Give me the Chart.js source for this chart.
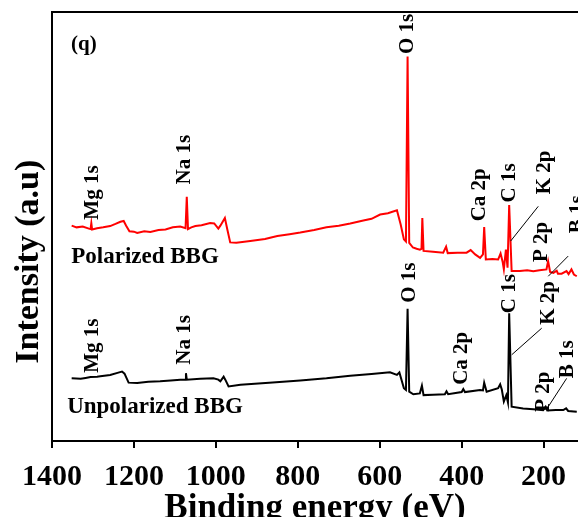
<!DOCTYPE html>
<html>
<head>
<meta charset="utf-8">
<script src="https://cdn.jsdelivr.net/npm/chart.js@4.4.0/dist/chart.umd.min.js"></script>
<style>
  html, body { margin: 0; padding: 0; background: #fff; overflow: hidden; }
  #wrap { width: 578px; height: 517px; position: relative; }
</style>
</head>
<body>
<div id="wrap"><canvas id="xps"></canvas></div>
<script>
// survey spectra (binding energy in eV, intensity in a.u.)
const polEnergy = [
  1352, 1340, 1325, 1310, 1306, 1304, 1302, 1290, 1275, 1258,
  1245, 1233, 1225, 1219, 1211, 1200, 1192, 1175, 1160, 1140,
  1123, 1105, 1087, 1074, 1071, 1068, 1060, 1050, 1035, 1014,
  1004, 994, 989, 978, 972, 965, 950, 916, 880, 850,
  820, 794, 760, 730, 700, 672, 640, 620, 599, 580,
  558, 549, 541, 536, 532, 528, 519, 510, 502, 498,
  496, 493, 470, 445, 438, 434, 410, 388, 378, 367,
  355, 348, 345, 341, 325, 311, 305, 300, 297, 292,
  288, 284, 278, 258, 240, 225, 210, 193, 189, 184,
  176, 168, 165, 156, 144, 139, 132, 126, 119
];
const polIntensity = [
  50.2, 49.8, 50.0, 49.5, 49.4, 50.8, 49.3, 49.6, 49.8, 50.1,
  50.6, 51.1, 51.3, 50.2, 48.9, 48.8, 48.5, 48.9, 48.7, 49.2,
  49.3, 49.8, 50.0, 49.6, 56.9, 49.4, 49.8, 50.1, 50.3, 50.8,
  50.7, 49.5, 50.2, 52.0, 49.3, 46.3, 46.2, 46.6, 47.1, 47.8,
  48.2, 48.6, 49.2, 49.8, 50.2, 50.7, 51.4, 51.8, 52.8, 53.1,
  53.8, 50.5, 47.0, 46.5, 89.6, 46.2, 45.1, 44.8, 44.6, 44.8,
  52.0, 44.3, 44.1, 43.9, 45.3, 43.8, 43.9, 43.9, 44.5, 43.5,
  42.7, 43.5, 49.9, 42.3, 42.4, 42.3, 43.7, 41.8, 40.0, 44.6,
  40.4, 55.0, 39.6, 39.6, 39.8, 39.6, 39.8, 40.0, 41.9, 39.4,
  39.2, 39.7, 39.0, 39.0, 39.6, 38.9, 40.0, 38.8, 38.4
];
const unpolEnergy = [
  1352, 1330, 1318, 1306, 1290, 1282, 1258, 1236, 1229, 1223,
  1213, 1192, 1165, 1136, 1110, 1087, 1075, 1073, 1071, 1038,
  1006, 994, 989, 981, 977, 969, 940, 870, 794, 730,
  672, 620, 575, 558, 552, 541, 536, 532, 528, 518,
  502, 497, 493, 470, 441, 437, 433, 400, 396, 392,
  355, 348, 345, 339, 311, 306, 302, 297, 291, 287,
  284, 278, 250, 225, 201, 195, 191, 170, 152, 145,
  140, 119
];
const unpolIntensity = [
  14.6, 14.5, 14.7, 14.9, 15.0, 15.1, 15.4, 16.0, 16.2, 15.7,
  13.6, 13.5, 13.8, 13.9, 14.1, 14.3, 14.3, 15.8, 14.3, 14.5,
  14.6, 14.3, 13.9, 15.0, 14.3, 12.7, 13.1, 13.6, 14.1, 14.6,
  15.2, 15.6, 16.0, 15.4, 16.0, 12.3, 11.9, 30.8, 11.5, 10.9,
  11.1, 12.9, 10.7, 10.8, 10.9, 11.6, 10.9, 11.4, 12.1, 11.4,
  11.9, 11.8, 13.6, 11.5, 12.3, 13.2, 12.0, 9.2, 10.7, 9.0,
  29.8, 8.0, 7.6, 7.4, 7.2, 8.0, 7.1, 7.2, 7.2, 7.6,
  7.0, 6.8
];
const xTicks = [1400, 1200, 1000, 800, 600, 400, 200];

// peak labels: [text, energy, intensity where the text starts]
const polLabels = [
  ['Mg 1s', 1302, 51.6], ['Na 1s', 1076, 59.8], ['O 1s', 532, 90.2],
  ['Ca 2p', 356, 51.2], ['C 1s', 283, 55.6], ['K 2p', 198, 57.5],
  ['P 2p', 205, 41.7], ['B 1s', 117, 48.4]
];
const unpolLabels = [
  ['Mg 1s', 1302, 15.9], ['Na 1s', 1076, 17.8], ['O 1s', 528, 32.2],
  ['Ca 2p', 400, 13.1], ['C 1s', 284, 29.8], ['K 2p', 188, 27.1],
  ['P 2p', 201, 6.8], ['B 1s', 142, 14.6]
];
// leader lines from label to peak: [e1, i1, e2, i2]
const leaders = [
  [213, 54.7, 280.5, 46.6], [140, 43.1, 188.6, 38.4],
  [204.6, 26.3, 277.8, 20.1], [143.7, 14.6, 188.6, 8.0]
];
const seriesNames = [['Polarized BBG', 1353, 41.5], ['Unpolarized BBG', 1363, 6.5]];

const serif = '"Liberation Serif", "Times New Roman", serif';

function toPoints(xs, ys){ return xs.map((v, i) => ({ x: v, y: ys[i] })); }

const annotations = {
  id: 'annotations',
  afterDraw(chart){
    const { ctx, chartArea, scales: { x, y } } = chart;
    ctx.save();
    ctx.fillStyle = '#000';
    ctx.strokeStyle = '#000';

    // rotated peak labels
    ctx.font = 'bold 21px ' + serif;
    ctx.textBaseline = 'middle';
    ctx.textAlign = 'left';
    polLabels.concat(unpolLabels).forEach(([t, e, i]) => {
      ctx.save();
      ctx.translate(x.getPixelForValue(e), y.getPixelForValue(i));
      ctx.rotate(-Math.PI / 2);
      ctx.fillText(t, 0, 0);
      ctx.restore();
    });

    ctx.lineWidth = 1;
    leaders.forEach(([e1, i1, e2, i2]) => {
      ctx.beginPath();
      ctx.moveTo(x.getPixelForValue(e1), y.getPixelForValue(i1));
      ctx.lineTo(x.getPixelForValue(e2), y.getPixelForValue(i2));
      ctx.stroke();
    });

    ctx.textBaseline = 'alphabetic';
    ctx.font = 'bold 23px ' + serif;
    seriesNames.forEach(([t, e, i]) => {
      ctx.fillText(t, x.getPixelForValue(e), y.getPixelForValue(i));
    });

    ctx.font = 'bold 21px ' + serif;
    ctx.fillText('(q)', chartArea.left + 19, chartArea.top + 38);

    // y title sits a bit below the axis centre in the original
    ctx.font = 'bold 34px ' + serif;
    ctx.textAlign = 'center';
    ctx.textBaseline = 'middle';
    ctx.translate(29, chartArea.top + (chartArea.bottom - chartArea.top) * 0.582);
    ctx.rotate(-Math.PI / 2);
    ctx.fillText('Intensity (a.u)', 0, 0);
    ctx.restore();
  }
};

new Chart(document.getElementById('xps'), {
  type: 'line',
  data: {
    datasets: [
      { label: 'Polarized BBG', data: toPoints(polEnergy, polIntensity),
        borderColor: '#ff0000', borderWidth: 2, pointRadius: 0, tension: 0 },
      { label: 'Unpolarized BBG', data: toPoints(unpolEnergy, unpolIntensity),
        borderColor: '#000000', borderWidth: 2, pointRadius: 0, tension: 0 }
    ]
  },
  options: {
    responsive: true,
    maintainAspectRatio: false,
    animation: false,
    layout: { padding: { top: 12, right: 0, bottom: 0, left: 0 } },
    plugins: { legend: { display: false }, tooltip: { enabled: false } },
    scales: {
      x: {
        type: 'linear', position: 'bottom', reverse: true, min: 116, max: 1400,
        afterBuildTicks: s => { s.ticks = xTicks.map(v => ({ value: v })); },
        afterFit: s => { s.height = 76; },
        ticks: { color: '#000', padding: 11, maxRotation: 0, autoSkip: false,
          callback: v => String(v),
          font: { family: serif, size: 30, weight: 'bold' } },
        grid: { display: true, drawOnChartArea: false, drawTicks: true, tickLength: 7,
          color: '#000', lineWidth: 2 },
        border: { display: true, color: '#000', width: 2 },
        title: { display: true, text: 'Binding energy (eV)', color: '#000',
          padding: { top: 0, bottom: -13 },
          font: { family: serif, size: 35, weight: 'bold' } }
      },
      xTop: {
        type: 'linear', position: 'top', reverse: true, min: 116, max: 1400,
        afterFit: s => { s.height = 0; },
        ticks: { display: false },
        grid: { display: false },
        border: { display: true, color: '#000', width: 2 }
      },
      y: {
        type: 'linear', position: 'left', min: 0, max: 100,
        afterFit: s => { s.width = 52; },
        ticks: { display: false },
        grid: { display: false },
        border: { display: true, color: '#000', width: 2 }
      }
    }
  },
  plugins: [annotations]
});
</script>
</body>
</html>
